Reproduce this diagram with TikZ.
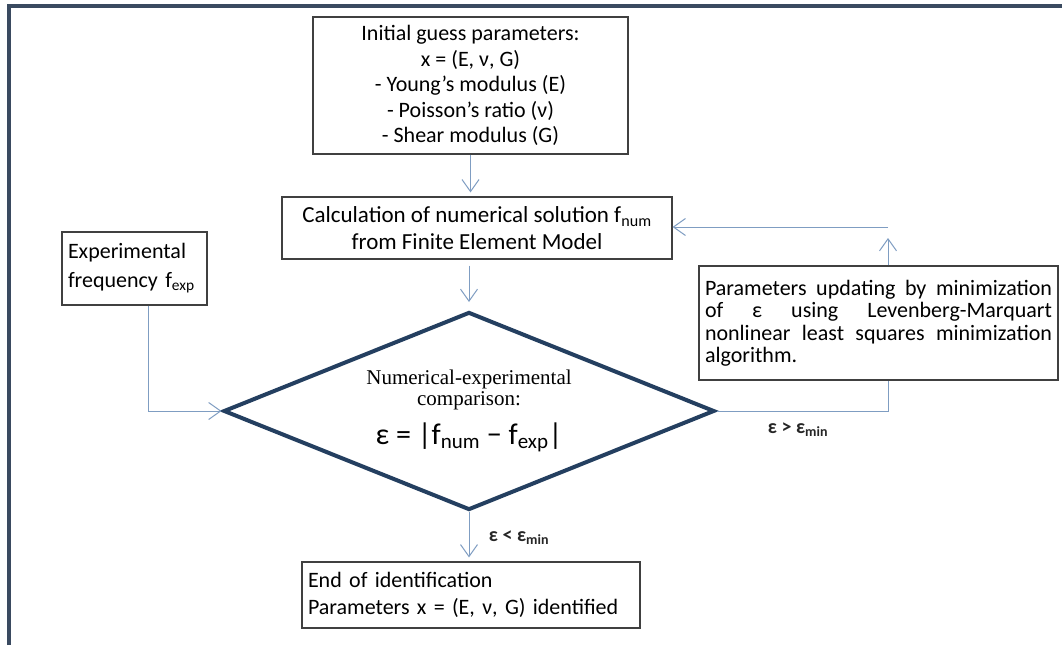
\documentclass[tikz,border=0pt]{standalone}
\usepackage{fontspec}
\setmainfont{Carlito}
\newfontfamily\timesfont{Liberation Serif}
\usetikzlibrary{shapes.geometric,arrows.meta}
\definecolor{framecol}{HTML}{3A4A60}
\definecolor{diacol}{HTML}{243F60}
\definecolor{arrcol}{HTML}{7F9DC2}
\definecolor{boxcol}{HTML}{404040}
\begin{document}
\begin{tikzpicture}[x=1pt,y=-1pt,
    box/.style={draw=boxcol, line width=1.2pt, inner sep=0pt, font=\fontsize{22}{25.5}\selectfont},
    decision/.style={diamond, draw=diacol, line width=4pt, inner sep=0pt, aspect=2.48},
    arrow/.style={draw=arrcol, line width=1pt, -{Straight Barb[length=12pt,width=17pt]}},
    link/.style={draw=arrcol, line width=1pt},
    cond/.style={font=\fontsize{20}{22}\selectfont\bfseries, text=black!85}]
  \useasboundingbox (0,0) rectangle (1062,645);
  \fill[white] (0,0) rectangle (1062,645);
  \draw[framecol, line width=4pt] (9,645) -- (9,6) -- (1062,6);

  \node[box, minimum width=315pt, minimum height=137pt, align=center] (init) at (470.5,85.5)
    {Initial guess parameters:\\ x = (E, ν, G)\\ - Young’s modulus (E)\\ - Poisson’s ratio (ν)\\ - Shear modulus (G)};
  \node[box, minimum width=390pt, minimum height=62pt, align=center, font=\fontsize{23}{27}\selectfont] (calc) at (477,228)
    {Calculation of numerical solution f\textsubscript{num}\\ from Finite Element Model};
  \node[box, minimum width=145pt, minimum height=73pt, text width=133pt, align=left, font=\fontsize{22}{29}\selectfont] (exp) at (134.5,268.5)
    {Experimental\\ frequency f\textsubscript{exp}};
  \node[box, minimum width=359pt, minimum height=114pt, text width=347pt, align=justify, font=\fontsize{22}{22.5}\selectfont] (param) at (878.5,323)
    {\hyphenpenalty=10000 \exhyphenpenalty=10000 Parameters updating by minimization\linebreak of ε using Levenberg-Marquart\linebreak nonlinear least squares minimization\linebreak algorithm.};
  \node[decision, minimum width=491pt, minimum height=198pt, align=center, font=\fontsize{21}{21}\selectfont\timesfont] (cmp) at (469,411)
    {Numerical-experimental\\ comparison:\\[12pt] {\rmfamily\fontsize{30}{30}\selectfont ε = |f\textsubscript{num} − f\textsubscript{exp}|}};
  \node[box, minimum width=338pt, minimum height=66pt, text width=326pt, align=left, font=\fontsize{22}{27}\selectfont] (done) at (471,595)
    {End of identification\\ Parameters x = (E, ν, G) identified};

  \node[cond] (lt) at (519,538) {ε < ε\textsubscript{min}};
  \node[cond] (gt) at (798,430) {ε > ε\textsubscript{min}};

  \coordinate (tip) at (888,238);
  \coordinate (turn) at (888,227);

  \draw[arrow, shorten >=4pt] (init.south) -- (init.south |- calc.north);
  \draw[arrow, shorten <=6pt, shorten >=8pt] (calc.south -| cmp.north) -- (cmp.north);
  \draw[arrow, shorten >=4pt] (cmp.south) -- (cmp.south |- done.north);
  \draw[arrow] ([xshift=13.5pt]exp.south) |- (cmp.west);
  \draw[link] (cmp.east) -| (param.south -| tip);
  \draw[arrow] (param.north -| tip) -- (tip);
  \draw[arrow] (turn) -- (turn -| calc.east);
\end{tikzpicture}
\end{document}
